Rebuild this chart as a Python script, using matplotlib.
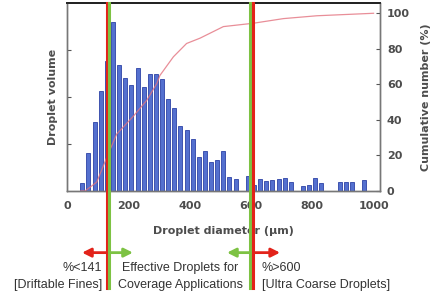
import numpy as np
import matplotlib
matplotlib.use('Agg')
import matplotlib.pyplot as plt

# Droplet volume histogram (20 um bins, bin centres)
bin_centers = [50, 70, 90, 110, 130, 150, 170, 190, 210, 230, 250, 270, 290, 310,
               330, 350, 370, 390, 410, 430, 450, 470, 490, 510, 530, 550, 570, 590,
               610, 630, 650, 670, 690, 710, 730, 750, 770, 790, 810, 830, 850, 870,
               890, 910, 930, 950, 970]
volume = [0.18, 0.81, 1.46, 2.13, 2.77, 3.60, 2.68, 2.40, 2.26, 2.61, 2.22, 2.49, 2.49, 2.38,
          1.96, 1.76, 1.38, 1.30, 1.10, 0.73, 0.84, 0.62, 0.66, 0.84, 0.29, 0.25, 0.0, 0.32,
          0.13, 0.26, 0.21, 0.23, 0.25, 0.28, 0.20, 0.0, 0.11, 0.13, 0.27, 0.16, 0.0, 0.0,
          0.19, 0.20, 0.20, 0.0, 0.23]

# Cumulative number curve (%)
cum_x = [45, 59, 97, 130, 162, 216, 260, 293, 303, 347, 390, 434, 510, 608, 706, 815, 1000]
cum_y = [0, 0, 5, 19, 32, 42, 51, 60.5, 65, 75.5, 83, 86, 92.5, 94.4, 97, 98.6, 100]

x_ticks = [0, 200, 400, 600, 800, 1000]
y2_ticks = [0, 20, 40, 60, 80, 100]

# threshold markers
fines_red, fines_green = 130, 138
coarse_green, coarse_red = 597, 608

RED = '#e2231a'
GREEN = '#7dc243'
AX_TXT = '#4d4d4d'

narrow = ['Liberation Sans Narrow', 'Liberation Sans', 'DejaVu Sans']

fig = plt.figure(figsize=(4.38, 2.97), dpi=100)
ax = fig.add_axes([0.153, 0.357, 0.7146, 0.633])
ax2 = ax.twinx()

ax.bar(bin_centers, volume, width=13, color='#5470cf', edgecolor='#2d43a6', linewidth=0.6)
ax.set_xlim(0, 1021)
ax.set_ylim(0, 4)
ax.set_yticks([1, 2, 3])
ax.tick_params(axis='y', direction='in', length=3, labelleft=False, color='#555')
ax.set_xticks(x_ticks)
ax.tick_params(axis='x', direction='in', length=0, pad=7, labelsize=8, labelcolor=AX_TXT)
for lbl in ax.get_xticklabels():
    lbl.set_fontweight('bold')

ax2.plot(cum_x, cum_y, color='#e3727f', lw=0.9, alpha=0.8)
ax2.set_ylim(0, 105.8)
ax2.set_yticks(y2_ticks)
ax2.tick_params(axis='y', direction='in', length=3, pad=5, labelsize=8, labelcolor=AX_TXT, color='#555')
for lbl in ax2.get_yticklabels():
    lbl.set_fontweight('bold')

for a in (ax, ax2):
    for side in ['left', 'right', 'bottom']:
        a.spines[side].set_color('#777')
        a.spines[side].set_linewidth(1.0)
    a.spines['top'].set_color('#222')
    a.spines['top'].set_linewidth(1.3)

ax.set_xlabel('Droplet diameter (µm)', fontsize=8, fontweight='bold', color=AX_TXT)
ax.xaxis.set_label_coords(0.5, -0.185)
ax.set_ylabel('Droplet volume', fontsize=8, fontweight='bold', color=AX_TXT)
ax.yaxis.set_label_coords(-0.03, 0.5)
ax2.set_ylabel('Cumulative number (%)', fontsize=8, fontweight='bold', color=AX_TXT)
ax2.yaxis.set_label_coords(1.13, 0.5)

# threshold lines running below the axes
for xv, c in [(fines_red, RED), (fines_green, GREEN), (coarse_green, GREEN), (coarse_red, RED)]:
    ax2.axvline(xv, ymin=-0.516, ymax=1, color=c, lw=2.2, clip_on=False, zorder=5)

tr = ax2.get_xaxis_transform()
arrow_y = -0.328
for x0, x1, c in [(fines_red - 2, 49, RED), (fines_green + 2, 215, GREEN),
                  (coarse_green - 2, 522, GREEN), (coarse_red + 2, 695, RED)]:
    ax2.annotate('', xy=(x1, arrow_y), xytext=(x0, arrow_y), xycoords=tr, textcoords=tr,
                 arrowprops=dict(arrowstyle='-|>', color=c, lw=2, mutation_scale=13,
                                 shrinkA=0, shrinkB=0), annotation_clip=False)

txt = dict(transform=tr, fontsize=9, color='#333', family=narrow, va='center', clip_on=False)
ax2.text(114, -0.41, '%<141', ha='right', **txt)
ax2.text(114, -0.50, '[Driftable Fines]', ha='right', **txt)
ax2.text(369, -0.41, 'Effective Droplets for', ha='center', **txt)
ax2.text(369, -0.50, 'Coverage Applications', ha='center', **txt)
ax2.text(636, -0.41, '%>600', ha='left', **txt)
ax2.text(636, -0.50, '[Ultra Coarse Droplets]', ha='left', **txt)

fig.savefig('out.png', dpi=100)
